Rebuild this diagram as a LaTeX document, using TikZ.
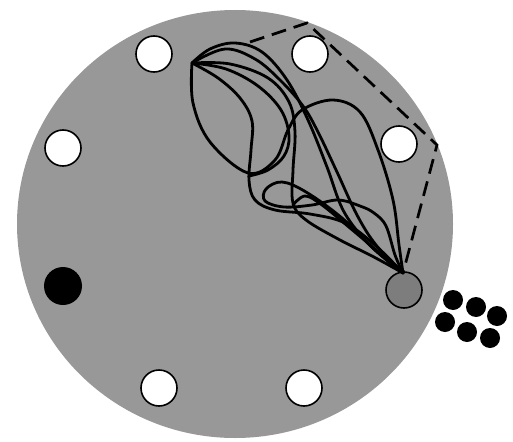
\documentclass[tikz,border=0pt]{standalone}
\definecolor{diskgray}{RGB}{152,152,152}
\definecolor{ballgray}{RGB}{125,125,125}
\begin{document}
\begin{tikzpicture}[x=1pt,y=-1pt,
  hole/.style={circle,draw=black,line width=1.6pt,fill=white,minimum size=36pt,inner sep=0pt},
  blackhole/.style={circle,fill=black,minimum size=38pt,inner sep=0pt},
  goal/.style={circle,draw=black,line width=1.6pt,fill=ballgray,minimum size=36pt,inner sep=0pt},
  pellet/.style={circle,fill=black,minimum size=20pt,inner sep=0pt},
  swim/.style={line width=2.8pt,line join=round,line cap=round},
  route/.style={line width=2.7pt,dash pattern=on 15pt off 8pt}]
\useasboundingbox (0,0) rectangle (513,441);
\fill[diskgray] (235,224) ellipse [x radius=218, y radius=214];
% holes
\node[hole] (h1) at (154,54) {};
\node[hole] (h2) at (310,54) {};
\node[hole] (h3) at (399,144) {};
\node[hole] (h4) at (63,148) {};
\node[hole] (h5) at (159,388) {};
\node[hole] (h6) at (304,388) {};
\node[blackhole] (hb) at (63,286) {};
\node[goal] (g) at (404,290) {};
% pellets
\node[pellet] (p1) at (453,300) {};
\node[pellet] (p2) at (476,307) {};
\node[pellet] (p3) at (497,316) {};
\node[pellet] (p4) at (445,322) {};
\node[pellet] (p5) at (467,332) {};
\node[pellet] (p6) at (490,338) {};
% path endpoints
\coordinate (S) at (192,63);
\coordinate (E) at (403,273);
\coordinate (d1) at (250,42);
\coordinate (d2) at (307,23);
\coordinate (d3) at (437,145);
% dashed direct route
\draw[route] (d1) -- (d2) -- (d3) -- (E);
% swim paths
\draw[swim] plot[smooth,tension=0.6] coordinates {(S) (210,49) (235,43) (262,52) (287,80) (308,120) (327,167) (343,210) (365,240) (388,261) (E)};
\draw[swim] plot[smooth,tension=0.6] coordinates {(S) (225,49) (255,59) (280,80) (303,106) (318,132) (337,172) (357,215) (376,245) (E)};
\draw[swim] plot[smooth,tension=0.6] coordinates {(S) (230,64) (268,78) (289,102) (295,132) (293,170) (293,203) (306,220) (340,240) (372,256) (E)};
\draw[swim] plot[smooth,tension=0.6] coordinates {(S) (193,103) (210,142) (248,173) (275,160) (288,130) (302,110) (333,100) (360,112) (378,150) (393,200) (399,245) (E)};
\draw[swim] plot[smooth,tension=0.6] coordinates {(S) (218,78) (240,98) (252,121) (251,150) (249,180) (255,200) (275,210) (310,214) (345,223) (376,246) (E)};
\draw[swim] plot[smooth,tension=0.6] coordinates {(S) (226,69) (258,86) (281,110) (289,136) (284,156) (268,170) (249,176)};
\draw[swim] plot[smooth,tension=0.6] coordinates {(E) (376,251) (342,218) (306,192) (282,182) (266,189) (265,201) (284,207) (312,205) (338,200) (360,206) (374,213) (386,226) (395,255) (E)};
\draw[swim] plot[smooth,tension=0.6] coordinates {(293,205) (305,196) (322,205) (350,228) (382,255) (E)};
\end{tikzpicture}
\end{document}
